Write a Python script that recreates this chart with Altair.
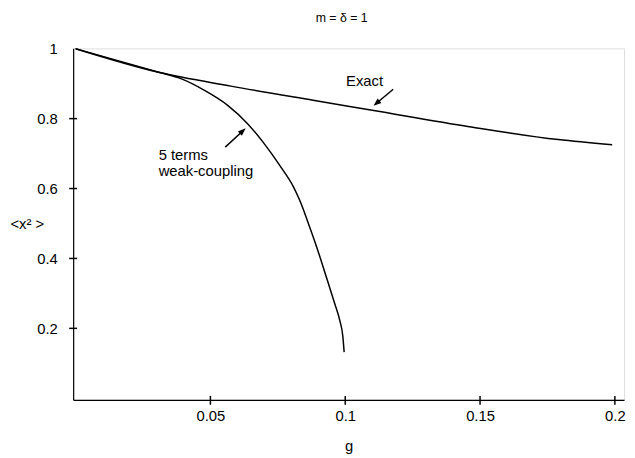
import altair as alt
import pandas as pd

# ---- data ----
exact_g = [0.0, 0.0308, 0.0576, 0.0881, 0.110, 0.146, 0.179, 0.199]
exact_v = [1.0, 0.9325, 0.893, 0.8525, 0.824, 0.777, 0.740, 0.725]

weak_g = [0.0, 0.0308, 0.0393, 0.0478, 0.0564, 0.0637, 0.0698, 0.0759, 0.0808, 0.0832,
          0.0868, 0.0894, 0.0929, 0.0960, 0.0980, 0.0991, 0.0996]
weak_v = [1.0, 0.9325, 0.9136, 0.8808, 0.8380, 0.7864, 0.7299, 0.6641, 0.605, 0.565,
          0.490, 0.433, 0.349, 0.273, 0.222, 0.178, 0.132]

x_ticks = [0.05, 0.1, 0.15, 0.2]
y_ticks = [0.2, 0.4, 0.6, 0.8]
y_labels = [0.2, 0.4, 0.6, 0.8, 1.0]

label_text = ["Exact", "5 terms", "weak-coupling"]
label_g = [0.1003, 0.0308, 0.0308]
label_v = [0.907, 0.697, 0.650]

arrow_tail_g = [0.1178, 0.0555]
arrow_tail_v = [0.884, 0.7186]
arrow_head_g = [0.1116, 0.0620]
arrow_head_v = [0.844, 0.7647]
arrow_angle = [229.6, 47.3]

FONT = "Liberation Sans"
W, H = 558, 356
X_DOM = [-0.0009, 0.2034]
Y_DOM = [-0.0045, 1.001]

# tick half-lengths (pixels) converted to data units through the scale ratios
gpp = (X_DOM[1] - X_DOM[0]) / W
vpp = (Y_DOM[1] - Y_DOM[0]) / H

curves = pd.concat([
    pd.DataFrame({"g": exact_g, "v": exact_v, "s": "Exact"}),
    pd.DataFrame({"g": weak_g, "v": weak_v, "s": "weak"}),
])
labels = pd.DataFrame({"g": label_g, "v": label_v, "t": label_text})
arrows = pd.DataFrame({"g": arrow_tail_g, "v": arrow_tail_v,
                       "g2": arrow_head_g, "v2": arrow_head_v, "a": arrow_angle})
xt = pd.DataFrame({"g": x_ticks, "g2": x_ticks,
                   "v": [Y_DOM[0] - 5 * vpp] * len(x_ticks), "v2": [Y_DOM[0] + 4 * vpp] * len(x_ticks)})
yt = pd.DataFrame({"v": y_ticks, "v2": y_ticks,
                   "g": [X_DOM[0] - 4 * gpp] * len(y_ticks), "g2": [X_DOM[0] + 4 * gpp] * len(y_ticks)})
segments = pd.concat([arrows[["g", "v", "g2", "v2"]], xt, yt], ignore_index=True)

xs = alt.Scale(domain=X_DOM, nice=False, zero=False)
ys = alt.Scale(domain=Y_DOM, nice=False, zero=False)

xaxis = alt.Axis(values=x_ticks, format="~g", title="g", ticks=False, tickSize=0,
                 grid=False, domainColor="black", domainWidth=1.2,
                 labelFont=FONT, labelFontSize=15, labelColor="black", labelPadding=9,
                 titleFont=FONT, titleFontSize=15, titleFontWeight="normal", titleColor="black",
                 titleY=51, titleBaseline="alphabetic")
yaxis = alt.Axis(values=y_labels, format="~g", title="<x² >", ticks=False, tickSize=0,
                 grid=False, domainColor="black", domainWidth=1.2,
                 labelFont=FONT, labelFontSize=15, labelColor="black", labelPadding=16,
                 titleFont=FONT, titleFontSize=15, titleFontWeight="normal", titleColor="black",
                 titleAngle=0, titleX=-64, titleY=182, titleAlign="left", titleBaseline="alphabetic")


def X(f):
    return alt.X(f, scale=xs, axis=xaxis)


def Y(f):
    return alt.Y(f, scale=ys, axis=yaxis)


lines = alt.Chart(curves).mark_line(color="black", strokeWidth=1.5, interpolate="monotone").encode(
    x=X("g:Q"), y=Y("v:Q"), detail="s:N")

text = alt.Chart(labels).mark_text(align="left", baseline="middle", font=FONT, fontSize=15,
                                   color="black").encode(x=X("g:Q"), y=Y("v:Q"), text="t:N")

# arrow shafts and axis tick marks (ticks cross the axis line, as in the reference)
rules = alt.Chart(segments).mark_rule(color="black", strokeWidth=1.5).encode(
    x=X("g:Q"), y=Y("v:Q"), x2="g2:Q", y2="v2:Q")
heads = alt.Chart(arrows).mark_point(shape="M0,-1L0.75,1L-0.75,1Z", filled=True, color="black",
                                     size=64, opacity=1).encode(
    x=X("g2:Q"), y=Y("v2:Q"), angle=alt.Angle("a:Q", scale=None))

chart = alt.layer(lines, text, rules, heads).properties(
    width=W, height=H,
    title=alt.TitleParams("m = δ  = 1", font=FONT, fontSize=12.5, fontWeight="normal",
                          color="black", offset=18, dx=-7, frame="group"),
    autosize=alt.AutoSizeParams(type="none"),
    padding={"left": 66, "top": 38, "right": 3, "bottom": 54},
).configure_view(stroke=None).configure(background="white")

chart.save("out.html", embed_options={"renderer": "svg", "actions": False})
